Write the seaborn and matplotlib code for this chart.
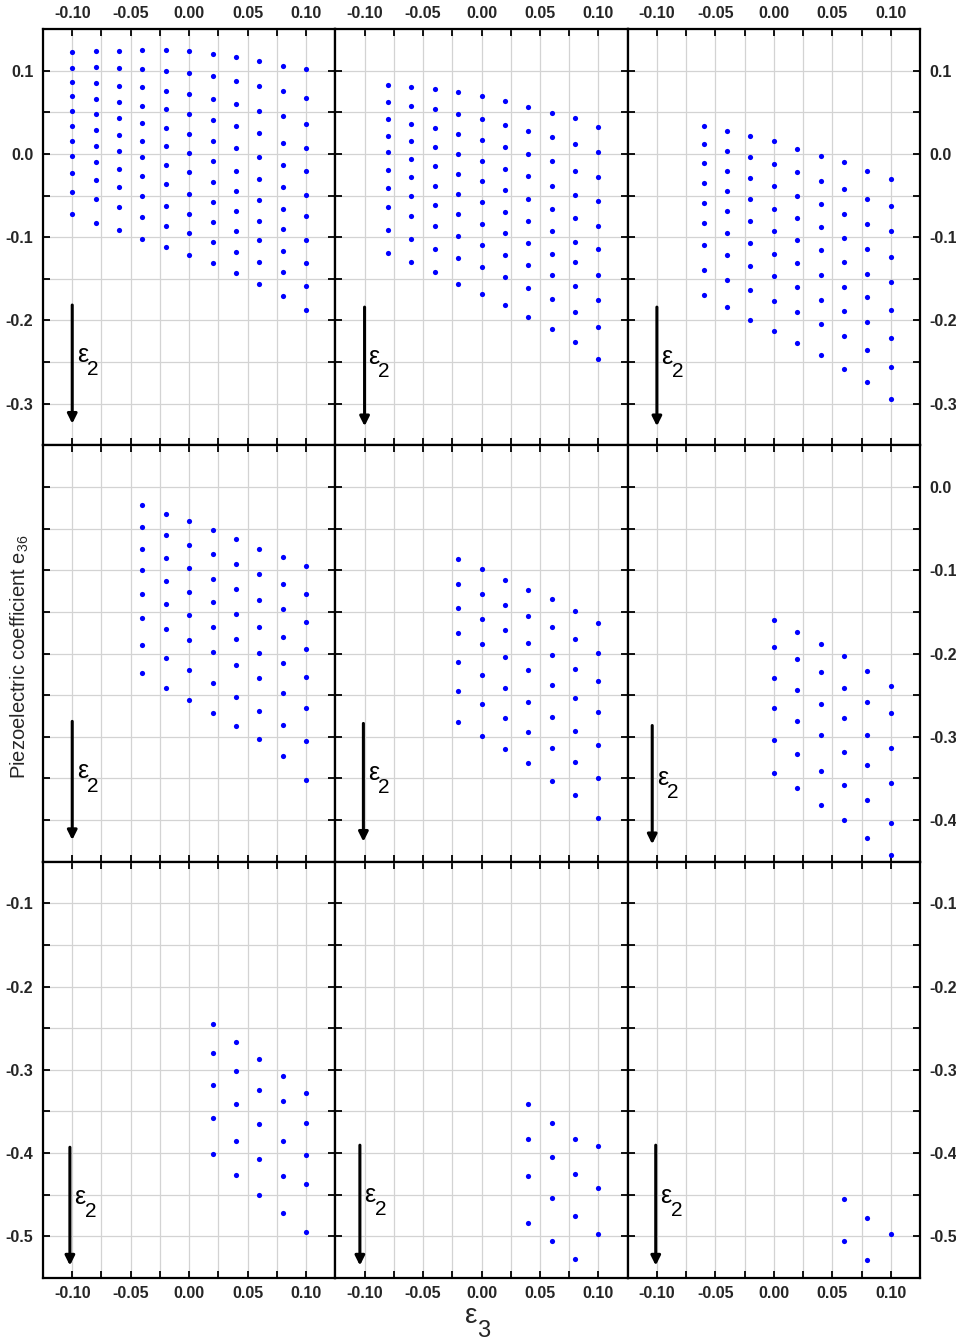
import matplotlib
matplotlib.use("Agg")
import matplotlib.pyplot as plt
from matplotlib.ticker import FixedLocator, MultipleLocator, FixedFormatter
import seaborn as sns
import pandas as pd

# ---------------- data (x = eps3 columns, y = e36 values per column, eps2 increasing downward) ----
P00_X = [-0.10, -0.08, -0.06, -0.04, -0.02, 0.00, 0.02, 0.04, 0.06, 0.08, 0.10]
P00_Y = [
    [0.122, 0.103, 0.086, 0.069, 0.052, 0.034, 0.016, -0.002, -0.023, -0.046, -0.072],
    [0.124, 0.104, 0.085, 0.066, 0.048, 0.029, 0.010, -0.010, -0.031, -0.054, -0.083],
    [0.124, 0.103, 0.082, 0.062, 0.043, 0.023, 0.003, -0.018, -0.040, -0.064, -0.091],
    [0.125, 0.102, 0.080, 0.058, 0.037, 0.016, -0.004, -0.027, -0.050, -0.076, -0.102],
    [0.125, 0.100, 0.076, 0.054, 0.031, 0.009, -0.013, -0.036, -0.063, -0.086, -0.112],
    [0.123, 0.097, 0.072, 0.048, 0.024, 0.001, -0.022, -0.048, -0.072, -0.095, -0.121],
    [0.120, 0.093, 0.066, 0.041, 0.016, -0.008, -0.034, -0.058, -0.082, -0.106, -0.131],
    [0.116, 0.087, 0.060, 0.033, 0.007, -0.020, -0.044, -0.068, -0.093, -0.118, -0.143],
    [0.111, 0.082, 0.052, 0.025, -0.004, -0.030, -0.055, -0.080, -0.104, -0.130, -0.156],
    [0.106, 0.075, 0.045, 0.013, -0.013, -0.040, -0.066, -0.090, -0.117, -0.142, -0.171],
    [0.102, 0.067, 0.036, 0.007, -0.021, -0.049, -0.075, -0.103, -0.131, -0.159, -0.188],
]
P01_X = [-0.08, -0.06, -0.04, -0.02, 0.00, 0.02, 0.04, 0.06, 0.08, 0.10]
P01_Y = [
    [0.083, 0.062, 0.042, 0.022, 0.002, -0.019, -0.041, -0.064, -0.091, -0.119],
    [0.080, 0.058, 0.036, 0.015, -0.006, -0.028, -0.051, -0.075, -0.102, -0.130],
    [0.078, 0.054, 0.031, 0.008, -0.015, -0.038, -0.061, -0.086, -0.114, -0.142],
    [0.074, 0.048, 0.024, 0.000, -0.024, -0.048, -0.072, -0.099, -0.125, -0.156],
    [0.070, 0.042, 0.017, -0.008, -0.033, -0.058, -0.084, -0.110, -0.136, -0.168],
    [0.064, 0.035, 0.008, -0.018, -0.043, -0.070, -0.095, -0.121, -0.148, -0.181],
    [0.056, 0.027, 0.000, -0.027, -0.054, -0.081, -0.107, -0.134, -0.161, -0.196],
    [0.049, 0.020, -0.008, -0.039, -0.066, -0.093, -0.120, -0.146, -0.174, -0.210],
    [0.043, 0.012, -0.020, -0.049, -0.077, -0.106, -0.130, -0.159, -0.190, -0.226],
    [0.032, 0.002, -0.028, -0.056, -0.086, -0.114, -0.145, -0.176, -0.208, -0.246],
]
P02_X = [-0.06, -0.04, -0.02, 0.00, 0.02, 0.04, 0.06, 0.08, 0.10]
P02_Y = [
    [0.034, 0.012, -0.011, -0.035, -0.059, -0.083, -0.110, -0.139, -0.170],
    [0.028, 0.004, -0.020, -0.044, -0.069, -0.095, -0.121, -0.151, -0.184],
    [0.022, -0.004, -0.029, -0.054, -0.080, -0.107, -0.135, -0.164, -0.199],
    [0.015, -0.012, -0.039, -0.066, -0.092, -0.120, -0.147, -0.177, -0.213],
    [0.006, -0.022, -0.050, -0.077, -0.104, -0.131, -0.160, -0.190, -0.227],
    [-0.003, -0.032, -0.060, -0.088, -0.116, -0.145, -0.175, -0.204, -0.242],
    [-0.010, -0.042, -0.072, -0.101, -0.130, -0.160, -0.189, -0.219, -0.258],
    [-0.020, -0.054, -0.084, -0.114, -0.144, -0.172, -0.202, -0.236, -0.274],
    [-0.030, -0.062, -0.093, -0.124, -0.154, -0.188, -0.221, -0.256, -0.294],
]
P10_X = [-0.04, -0.02, 0.00, 0.02, 0.04, 0.06, 0.08, 0.10]
P10_Y = [
    [-0.022, -0.048, -0.074, -0.100, -0.128, -0.157, -0.190, -0.224],
    [-0.032, -0.058, -0.085, -0.113, -0.141, -0.170, -0.206, -0.241],
    [-0.041, -0.070, -0.097, -0.126, -0.154, -0.184, -0.220, -0.256],
    [-0.052, -0.081, -0.110, -0.138, -0.168, -0.198, -0.236, -0.271],
    [-0.062, -0.092, -0.122, -0.152, -0.183, -0.214, -0.252, -0.287],
    [-0.074, -0.104, -0.136, -0.168, -0.199, -0.230, -0.269, -0.303],
    [-0.084, -0.116, -0.147, -0.180, -0.212, -0.247, -0.286, -0.323],
    [-0.095, -0.128, -0.162, -0.194, -0.228, -0.265, -0.305, -0.352],
]
P11_X = [-0.02, 0.00, 0.02, 0.04, 0.06, 0.08, 0.10]
P11_Y = [
    [-0.087, -0.116, -0.145, -0.175, -0.210, -0.245, -0.282],
    [-0.099, -0.128, -0.159, -0.189, -0.226, -0.261, -0.299],
    [-0.112, -0.142, -0.172, -0.204, -0.242, -0.278, -0.315],
    [-0.124, -0.155, -0.187, -0.220, -0.258, -0.294, -0.332],
    [-0.135, -0.168, -0.202, -0.238, -0.276, -0.314, -0.353],
    [-0.149, -0.183, -0.219, -0.253, -0.293, -0.330, -0.370],
    [-0.163, -0.199, -0.233, -0.270, -0.310, -0.349, -0.397],
]
P12_X = [0.00, 0.02, 0.04, 0.06, 0.08, 0.10]
P12_Y = [
    [-0.160, -0.192, -0.229, -0.265, -0.304, -0.344],
    [-0.174, -0.207, -0.244, -0.281, -0.321, -0.361],
    [-0.188, -0.222, -0.261, -0.298, -0.341, -0.382],
    [-0.203, -0.241, -0.278, -0.318, -0.358, -0.400],
    [-0.221, -0.258, -0.298, -0.334, -0.376, -0.422],
    [-0.239, -0.272, -0.314, -0.355, -0.403, -0.442],
]
P20_X = [0.02, 0.04, 0.06, 0.08, 0.10]
P20_Y = [
    [-0.245, -0.280, -0.318, -0.358, -0.401],
    [-0.266, -0.302, -0.341, -0.385, -0.426],
    [-0.287, -0.324, -0.365, -0.407, -0.450],
    [-0.308, -0.337, -0.386, -0.427, -0.472],
    [-0.328, -0.364, -0.402, -0.437, -0.495],
]
P21_X = [0.04, 0.06, 0.08, 0.10]
P21_Y = [
    [-0.341, -0.383, -0.428, -0.484],
    [-0.364, -0.405, -0.454, -0.505],
    [-0.383, -0.425, -0.475, -0.527],
    [-0.391, -0.442, -0.497],
]
P22_X = [0.06, 0.08, 0.10]
P22_Y = [
    [-0.455, -0.505],
    [-0.478, -0.528],
    [-0.497],
]

XTICKS = [-0.10, -0.05, 0.00, 0.05, 0.10]
XTICK_LABELS = ["-0.10", "-0.05", "0.00", "0.05", "0.10"]
ROW_YLIM = [(-0.35, 0.15), (-0.45, 0.05), (-0.55, -0.05)]
ROW_YTICKS = [[0.1, 0.0, -0.1, -0.2, -0.3],
              [0.0, -0.1, -0.2, -0.3, -0.4],
              [-0.1, -0.2, -0.3, -0.4, -0.5]]
ROW_YTICK_LABELS = [["0.1", "0.0", "-0.1", "-0.2", "-0.3"],
                    ["0.0", "-0.1", "-0.2", "-0.3", "-0.4"],
                    ["-0.1", "-0.2", "-0.3", "-0.4", "-0.5"]]
YLABEL = "Piezoelectric coefficient e$_{36}$"
EPS = "ε"
XLABEL_SUB = "3"
ARROW_SUB = "2"

PANELS = [[(P00_X, P00_Y), (P01_X, P01_Y), (P02_X, P02_Y)],
          [(P10_X, P10_Y), (P11_X, P11_Y), (P12_X, P12_Y)],
          [(P20_X, P20_Y), (P21_X, P21_Y), (P22_X, P22_Y)]]

# ---------------- style ----------------
sns.set_style("white")
plt.rcParams["font.family"] = ["Liberation Sans", "DejaVu Sans"]
plt.rcParams["font.weight"] = "bold"
plt.rcParams["mathtext.default"] = "regular"
plt.rcParams["axes.unicode_minus"] = False
plt.rcParams["xtick.labelsize"] = 11.5
plt.rcParams["ytick.labelsize"] = 11.5

fig, axes = plt.subplots(3, 3, figsize=(9.56, 13.40), dpi=100)
fig.subplots_adjust(left=43 / 956, right=920 / 956, top=1 - 29 / 1340,
                    bottom=1 - 1278 / 1340, wspace=0, hspace=0)

# arrow layout per panel: (x data, y_start frac, y_end frac, text x, text y frac)
ARROWS = [[(-0.100, 0.337, 0.052, -0.096, 0.200), (-0.100, 0.332, 0.046, -0.097, 0.196), (-0.100, 0.332, 0.046, -0.096, 0.196)],
          [(-0.100, 0.337, 0.052, -0.096, 0.200), (-0.101, 0.332, 0.048, -0.097, 0.196), (-0.104, 0.327, 0.042, -0.100, 0.184)],
          [(-0.102, 0.314, 0.030, -0.098, 0.178), (-0.104, 0.319, 0.030, -0.100, 0.182), (-0.101, 0.319, 0.030, -0.097, 0.180)]]

for r in range(3):
    for c in range(3):
        ax = axes[r][c]
        xs, ys = PANELS[r][c]
        rows = []
        for xv, col in zip(xs, ys):
            for yv in col:
                rows.append({"eps3": xv, "e36": yv})
        df = pd.DataFrame(rows)
        sns.scatterplot(data=df, x="eps3", y="e36", ax=ax, color="#0000ff",
                        s=14, linewidth=0, zorder=3, legend=False)
        ax.set_xlim(-0.125, 0.125)
        ax.set_ylim(*ROW_YLIM[r])
        ax.set_xlabel("")
        ax.set_ylabel("")

        ax.xaxis.set_major_locator(FixedLocator(XTICKS))
        ax.xaxis.set_major_formatter(FixedFormatter(XTICK_LABELS))
        ax.xaxis.set_minor_locator(MultipleLocator(0.025))
        ax.yaxis.set_major_locator(FixedLocator(ROW_YTICKS[r]))
        ax.yaxis.set_major_formatter(FixedFormatter(ROW_YTICK_LABELS[r]))
        ax.yaxis.set_minor_locator(MultipleLocator(0.05))

        ax.grid(True, which="both", color="#d3d3d3", linewidth=0.9, zorder=0)
        ax.set_axisbelow(True)
        for sp in ax.spines.values():
            sp.set_color("black")
            sp.set_linewidth(1.6)
            sp.set_visible(True)

        ax.tick_params(axis="both", which="both", direction="in", length=5, width=1.3,
                       top=True, bottom=True, left=True, right=True, color="black",
                       labeltop=(r == 0), labelbottom=(r == 2),
                       labelleft=(c == 0 and r != 1), labelright=(c == 2), pad=7)
        ax.tick_params(axis="x", which="both", pad=5.5)
        if r == 2:
            for lab in ax.get_xticklabels():
                lab.set_family(["Liberation Sans Narrow", "Liberation Sans", "DejaVu Sans"])

        axv, y0, y1, tx, ty = ARROWS[r][c]
        tr = ax.get_xaxis_transform()
        ax.annotate("", xy=(axv, y1), xycoords=tr, xytext=(axv, y0), textcoords=tr,
                    arrowprops=dict(arrowstyle="-|>", color="black", lw=2.2,
                                    mutation_scale=14, shrinkA=0, shrinkB=0), zorder=4)
        ax.annotate(EPS, xy=(tx, ty), xycoords=tr, fontsize=18, ha="left",
                    va="baseline", color="black", zorder=4, fontweight="normal")
        ax.annotate(ARROW_SUB, xy=(tx, ty), xycoords=tr, xytext=(7.5, -9.5),
                    textcoords="offset points", fontsize=15, ha="left",
                    va="baseline", color="black", zorder=4, fontweight="normal")

fig.text(20 / 956, 1 - 657 / 1340, YLABEL, rotation=90, ha="center", va="center",
         fontsize=14.5, fontweight="normal")
fig.text(471 / 956, 1 - 1323 / 1340, EPS, ha="center", va="baseline", fontsize=20,
         fontweight="normal")
fig.text(484 / 956, 1 - 1337 / 1340, XLABEL_SUB, ha="center", va="baseline", fontsize=17,
         fontweight="normal")

fig.savefig("out.png", dpi=100)
